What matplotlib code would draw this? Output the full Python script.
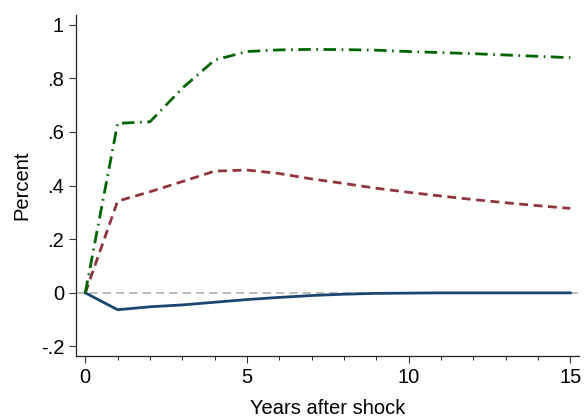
import numpy as np
import matplotlib
matplotlib.use("Agg")
import matplotlib.pyplot as plt
from matplotlib.ticker import FixedLocator, MultipleLocator

# Impulse responses, years 0..15
years = list(range(16))
resp_solid = [0.0, -0.063, -0.052, -0.045, -0.035, -0.025, -0.017, -0.010,
              -0.005, -0.002, -0.001, 0.0, 0.0, 0.0, 0.0, 0.0]
resp_dash = [0.0, 0.342, 0.377, 0.415, 0.454, 0.458, 0.445, 0.425,
             0.408, 0.390, 0.375, 0.361, 0.348, 0.336, 0.325, 0.315]
resp_dashdot = [0.0, 0.632, 0.638, 0.763, 0.868, 0.900, 0.906, 0.908,
                0.907, 0.905, 0.900, 0.896, 0.892, 0.887, 0.882, 0.877]

yticks = [-0.2, 0.0, 0.2, 0.4, 0.6, 0.8, 1.0]
ytick_labels = ["-.2", "0", ".2", ".4", ".6", ".8", "1"]
xticks = [0, 5, 10, 15]

plt.rcParams['font.family'] = ['Liberation Sans', 'DejaVu Sans']

fig = plt.figure(figsize=(5.84, 4.18), dpi=100)
ax = fig.add_axes([0.130, 0.148, 0.862, 0.816])

ax.axhline(0, color="#b0b0b0", lw=1.2, ls=(0, (5, 3)), zorder=1)
ax.plot(years, resp_solid, color="#1a476f", lw=2.0, zorder=3)
ax.plot(years, resp_dash, color="#90353b", lw=2.0, ls=(0, (3.2, 2)), zorder=3)
ax.plot(years, resp_dashdot, color="#006400", lw=2.0, ls=(0, (4.5, 2, 0.6, 2)), zorder=3)

ax.set_xlim(-0.29, 15.28)
ax.set_ylim(-0.236, 1.036)

ax.xaxis.set_major_locator(FixedLocator(xticks))
ax.xaxis.set_minor_locator(MultipleLocator(1))
ax.set_yticks(yticks)
ax.set_yticklabels(ytick_labels)

ax.tick_params(axis="both", which="major", labelsize=14.5, length=5, width=0.8, color="#333333")
ax.tick_params(axis="x", which="minor", length=3, width=0.8, color="#333333")

for side in ["top", "right"]:
    ax.spines[side].set_visible(False)
for side in ["left", "bottom"]:
    ax.spines[side].set_linewidth(0.9)
    ax.spines[side].set_color("#222222")

ax.set_xlabel("Years after shock", fontsize=14.5, labelpad=9)
ax.set_ylabel("Percent", fontsize=14.5, labelpad=7)

fig.savefig("out.png", dpi=100)
